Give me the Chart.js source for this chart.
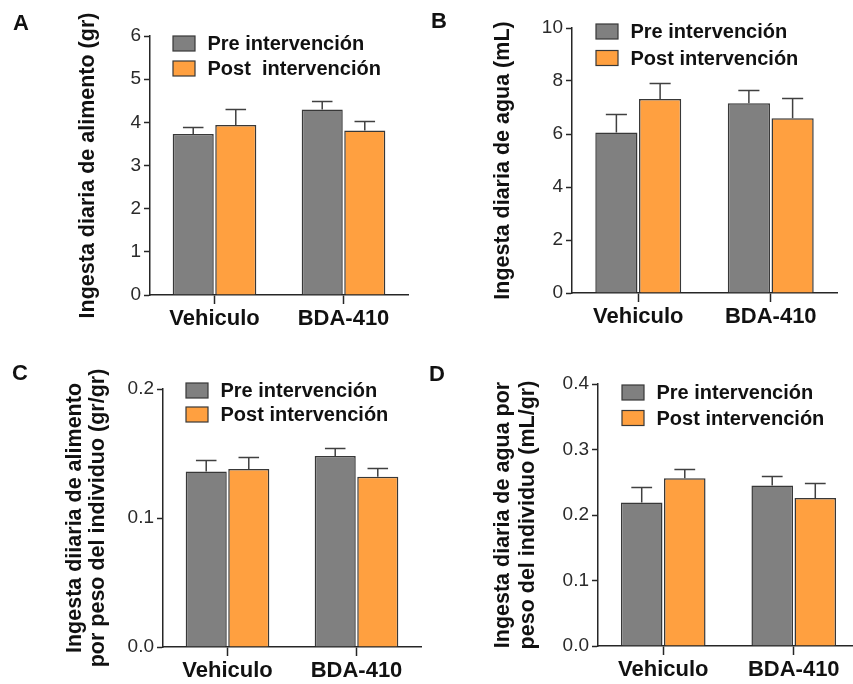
<!DOCTYPE html>
<html><head><meta charset="utf-8">
<script src="https://cdn.jsdelivr.net/npm/chart.js@4.4.0/dist/chart.umd.min.js"></script>
<style>
html,body{margin:0;padding:0;background:#fff;width:853px;height:684px;overflow:hidden;position:relative;}
canvas{position:absolute;}
.lbl{position:absolute;font:bold 22px "Liberation Sans",Arial,sans-serif;line-height:22px;color:#111;}
</style></head><body>
<canvas id="cA" width="430" height="340" style="left:0;top:0"></canvas>
<canvas id="cB" width="423" height="340" style="left:430px;top:0"></canvas>
<canvas id="cC" width="430" height="344" style="left:0;top:340px"></canvas>
<canvas id="cD" width="440" height="344" style="left:430px;top:340px"></canvas>
<div class="lbl" style="left:13px;top:12px">A</div>
<div class="lbl" style="left:431px;top:10px">B</div>
<div class="lbl" style="left:12px;top:362px">C</div>
<div class="lbl" style="left:429px;top:363px">D</div>
<script>
// ---- data ----
const categories = ['Vehiculo', 'BDA-410'];
const seriesPre = 'Pre intervención';
const seriesPost = 'Post intervención';
const seriesPostA = 'Post  intervención';

const foodPre = [3.73, 4.30];
const foodPreErr = [0.16, 0.19];
const foodPost = [3.94, 3.81];
const foodPostErr = [0.36, 0.23];

const waterPre = [6.06, 7.16];
const waterPreErr = [0.68, 0.50];
const waterPost = [7.32, 6.59];
const waterPostErr = [0.59, 0.75];

const foodRelPre = [0.136, 0.148];
const foodRelPreErr = [0.009, 0.0065];
const foodRelPost = [0.138, 0.132];
const foodRelPostErr = [0.0095, 0.007];

const waterRelPre = [0.219, 0.245];
const waterRelPreErr = [0.024, 0.014];
const waterRelPost = [0.256, 0.226];
const waterRelPostErr = [0.014, 0.023];

const yTicksA = [0, 1, 2, 3, 4, 5, 6];
const yTicksB = [0, 2, 4, 6, 8, 10];
const yTicksC = ['0.0', '0.1', '0.2'];
const yTicksD = ['0.0', '0.1', '0.2', '0.3', '0.4'];

// ---- styles ----
const FONT = '"Liberation Sans", Arial, Helvetica, sans-serif';
const GRAY = '#808080';
const ORANGE = '#ffa040';
const EDGE = '#383838';
const AXIS = '#262626';

const errorBarPlugin = {
  id: 'errorBars',
  afterDatasetsDraw(chart) {
    const ctx = chart.ctx;
    const ys = chart.scales.y;
    ctx.save();
    ctx.strokeStyle = '#404040';
    ctx.lineWidth = 1.5;
    chart.data.datasets.forEach((ds, i) => {
      const meta = chart.getDatasetMeta(i);
      meta.data.forEach((bar, j) => {
        const v = ds.data[j], e = ds.errors[j];
        const top = Math.round(ys.getPixelForValue(v + e)) + 0.5;
        const base = ys.getPixelForValue(v);
        const half = bar.width * 0.25;
        ctx.beginPath();
        ctx.moveTo(bar.x, base);
        ctx.lineTo(bar.x, top);
        ctx.moveTo(bar.x - half, top);
        ctx.lineTo(bar.x + half, top);
        ctx.stroke();
      });
    });
    ctx.restore();
  }
};

const boxLegendPlugin = {
  id: 'boxLegend',
  afterDraw(chart, args, opts) {
    const ctx = chart.ctx;
    ctx.save();
    ctx.font = 'bold 20px ' + FONT;
    ctx.textBaseline = 'middle';
    ctx.textAlign = 'left';
    chart.data.datasets.forEach((ds, i) => {
      const y = opts.y + i * opts.gap;
      ctx.fillStyle = ds.backgroundColor;
      ctx.fillRect(opts.x, y, 22, 15);
      ctx.strokeStyle = EDGE;
      ctx.lineWidth = 1.2;
      ctx.strokeRect(opts.x, y, 22, 15);
      ctx.fillStyle = '#111';
      ctx.fillText(ds.label, opts.x + 34.5, y + 8.5);
    });
    ctx.restore();
  }
};

function makeChart(id, cfg) {
  const c = document.getElementById(id);
  const H = c.height;
  return new Chart(c, {
    type: 'bar',
    data: {
      labels: categories,
      datasets: [
        { label: seriesPre, data: cfg.pre, errors: cfg.preErr, backgroundColor: GRAY, borderColor: EDGE, borderWidth: 1.5,
          categoryPercentage: 0.66, barPercentage: 0.965 },
        { label: cfg.postLabel, data: cfg.post, errors: cfg.postErr, backgroundColor: ORANGE, borderColor: EDGE, borderWidth: 1.5,
          categoryPercentage: 0.66, barPercentage: 0.965 }
      ]
    },
    options: {
      responsive: false,
      animation: false,
      events: [],
      layout: { padding: { left: 0, top: cfg.top, right: cfg.right, bottom: 0 } },
      plugins: {
        legend: { display: false },
        tooltip: { enabled: false },
        boxLegend: cfg.legend
      },
      scales: {
        x: {
          ticks: { color: '#111', font: { family: FONT, size: 22, weight: 'bold' }, padding: 2 },
          grid: { offset: false, drawOnChartArea: false, drawTicks: true, tickLength: 9, tickColor: AXIS, tickWidth: 1.5 },
          border: { display: true, color: AXIS, width: 1.5 },
          afterFit: s => { s.height = H - cfg.bottom; }
        },
        y: {
          min: 0, max: cfg.max,
          afterBuildTicks: s => { s.ticks = cfg.ticks.map(t => ({ value: Number(t), label: String(t) })); },
          ticks: { color: '#2a2a2a', font: { family: FONT, size: 19 }, padding: 3,
                   callback: (v) => cfg.fmt ? Number(v).toFixed(1) : String(v) },
          grid: { drawOnChartArea: false, drawTicks: true, tickLength: 6, tickColor: AXIS, tickWidth: 1.5 },
          border: { display: true, color: AXIS, width: 1.5 },
          title: { display: true, text: cfg.title, color: '#111',
                   font: { family: FONT, size: 21.5, weight: 'bold', lineHeight: cfg.lh || 1.2 },
                   padding: { top: cfg.tpad, bottom: 0 } },
          afterFit: s => { s.width = cfg.left; }
        }
      }
    },
    plugins: [errorBarPlugin, boxLegendPlugin]
  });
}

makeChart('cA', {
  pre: foodPre, preErr: foodPreErr, post: foodPost, postErr: foodPostErr, postLabel: seriesPostA,
  max: 6, ticks: yTicksA, left: 150, top: 36, right: 22, bottom: 295,
  title: 'Ingesta diaria de alimento (gr)', tpad: 75,
  legend: { x: 173, y: 36, gap: 25 }
});
makeChart('cB', {
  pre: waterPre, preErr: waterPreErr, post: waterPost, postErr: waterPostErr, postLabel: seriesPost,
  max: 10, ticks: yTicksB, left: 142, top: 28, right: 16, bottom: 293,
  title: 'Ingesta diaria de agua (mL)', tpad: 60,
  legend: { x: 166, y: 24, gap: 26.5 }
});
makeChart('cC', {
  pre: foodRelPre, preErr: foodRelPreErr, post: foodRelPost, postErr: foodRelPostErr, postLabel: seriesPost,
  max: 0.2, ticks: yTicksC, fmt: true, left: 163, top: 49, right: 9, bottom: 307,
  title: ['Ingesta diiaria de alimento', 'por peso del individuo (gr/gr)'], tpad: 63, lh: 1.1,
  legend: { x: 186, y: 43, gap: 24 }
});
makeChart('cD', {
  pre: waterRelPre, preErr: waterRelPreErr, post: waterRelPost, postErr: waterRelPostErr, postLabel: seriesPost,
  max: 0.4, ticks: yTicksD, fmt: true, left: 168, top: 44, right: 11, bottom: 306,
  title: ['Ingesta diaria de agua por', 'peso del individuo (mL/gr)'], tpad: 61, lh: 1.15,
  legend: { x: 192, y: 45, gap: 25.5 }
});
</script>
</body></html>
